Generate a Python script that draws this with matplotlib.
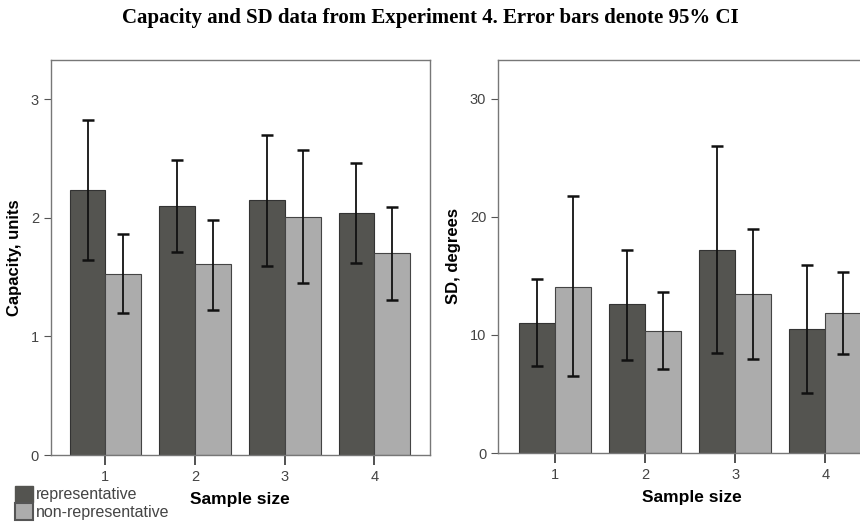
import matplotlib
matplotlib.use("Agg")
import matplotlib.pyplot as plt
import numpy as np
from matplotlib.patches import Patch

# dados
sample_sizes = ["1", "2", "3", "4"]

cap_rep = [2.23, 2.10, 2.15, 2.04]
cap_rep_lo = [1.64, 1.71, 1.59, 1.62]
cap_rep_hi = [2.82, 2.49, 2.70, 2.46]
cap_non = [1.53, 1.61, 2.01, 1.70]
cap_non_lo = [1.20, 1.22, 1.45, 1.31]
cap_non_hi = [1.86, 1.98, 2.57, 2.09]

sd_rep = [11.0, 12.6, 17.2, 10.5]
sd_rep_lo = [7.4, 7.9, 8.5, 5.1]
sd_rep_hi = [14.7, 17.2, 26.0, 15.9]
sd_non = [14.1, 10.3, 13.5, 11.9]
sd_non_lo = [6.5, 7.1, 8.0, 8.4]
sd_non_hi = [21.8, 13.6, 19.0, 15.3]

DARK = "#545450"
LIGHT = "#acacac"
plt.rcParams["font.family"] = ["Liberation Sans", "DejaVu Sans"]


def barras(ax, rep, rep_lo, rep_hi, non, non_lo, non_hi, ylim, yticks, ylabel):
    x = np.arange(1, len(sample_sizes) + 1)
    w = 0.4
    ax.bar(x - w / 2, rep, w, color=DARK, edgecolor="#333333", linewidth=0.8, zorder=2)
    ax.bar(x + w / 2, non, w, color=LIGHT, edgecolor="#444444", linewidth=0.8, zorder=2)
    for xs, m, lo, hi in [(x - w / 2, rep, rep_lo, rep_hi), (x + w / 2, non, non_lo, non_hi)]:
        m = np.array(m)
        err = [m - np.array(lo), np.array(hi) - m]
        ax.errorbar(xs, m, yerr=err, fmt="none", ecolor="#111111", elinewidth=1.3,
                    capsize=4, capthick=1.8, zorder=3)
    ax.set_ylim(*ylim)
    ax.set_yticks(yticks)
    ax.set_xticks(x)
    ax.set_xticklabels(sample_sizes)
    ax.tick_params(axis="y", colors="#555555", labelcolor="#444444", labelsize=10.5,
                   direction="out", length=5)
    ax.tick_params(axis="x", colors="#333333", labelcolor="#444444", labelsize=10.5,
                   direction="out", length=7, width=1.2)
    ax.set_xlabel("Sample size", fontsize=12.5, fontweight="bold", labelpad=6)
    ax.set_ylabel(ylabel, fontsize=12, fontweight="bold", labelpad=6)
    for s in ax.spines.values():
        s.set_color("#777777")
        s.set_linewidth(1.0)


fig = plt.figure(figsize=(8.6, 5.25), dpi=100)
ax1 = fig.add_axes([0.059, 0.133, 0.441, 0.753])
ax2 = fig.add_axes([0.579, 0.137, 0.45, 0.749])

barras(ax1, cap_rep, cap_rep_lo, cap_rep_hi, cap_non, cap_non_lo, cap_non_hi,
       (0, 3.33), [0, 1, 2, 3], "Capacity, units")
ax1.set_xlim(0.39, 4.62)

barras(ax2, sd_rep, sd_rep_lo, sd_rep_hi, sd_non, sd_non_lo, sd_non_hi,
       (0, 33.3), [0, 10, 20, 30], "SD, degrees")
ax2.set_xlim(0.37, 4.66)

fig.suptitle("Capacity and SD data from Experiment 4. Error bars denote 95% CI",
             x=0.5, y=0.985, fontsize=15, fontweight="bold",
             family=["Liberation Serif", "DejaVu Serif"])

handles = [Patch(facecolor=DARK, edgecolor=DARK, label="representative"),
           Patch(facecolor=LIGHT, edgecolor="#555555", linewidth=1.5, label="non-representative")]
fig.legend(handles=handles, loc="lower left", bbox_to_anchor=(0.005, -0.012), frameon=False,
           fontsize=11.5, handlelength=1.1, handleheight=1.25, handletextpad=0.15,
           labelspacing=0.05, borderpad=0.2, labelcolor="#444444")

fig.savefig("out.png", dpi=100)
